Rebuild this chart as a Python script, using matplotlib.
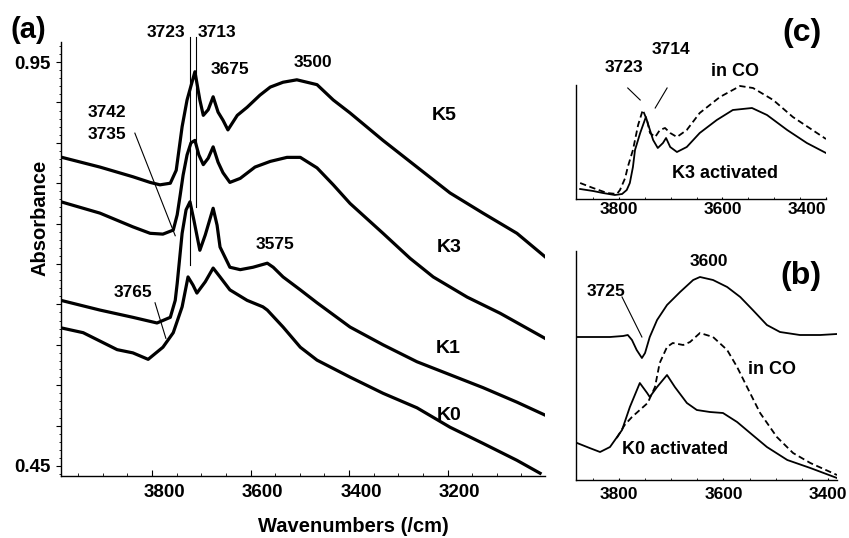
import matplotlib
matplotlib.use("Agg")
import matplotlib.pyplot as plt
import matplotlib.transforms as mtransforms
from matplotlib.ticker import MultipleLocator, FuncFormatter

plt.rcParams['font.family'] = ['Liberation Sans', 'DejaVu Sans']
plt.rcParams['font.weight'] = 'bold'

# ---- panel (a): IR spectra of K0..K5 ----
k5_wn = [3983, 3906, 3839, 3804, 3784, 3763, 3751, 3739, 3729, 3713, 3703, 3696, 3686,
         3676, 3666, 3656, 3646, 3627, 3607, 3581, 3560, 3534, 3506, 3465, 3432, 3398,
         3331, 3262, 3195, 3128, 3059, 3002]
k5_abs = [0.832, 0.820, 0.808, 0.801, 0.798, 0.800, 0.816, 0.870, 0.903, 0.938, 0.903,
          0.884, 0.891, 0.907, 0.888, 0.878, 0.866, 0.884, 0.894, 0.909, 0.919, 0.925,
          0.928, 0.922, 0.903, 0.887, 0.853, 0.820, 0.788, 0.763, 0.738, 0.709]

k3_wn = [3985, 3906, 3839, 3804, 3778, 3757, 3749, 3743, 3737, 3729, 3721, 3713, 3705,
         3696, 3686, 3676, 3666, 3656, 3642, 3621, 3591, 3560, 3526, 3499, 3465, 3432,
         3398, 3331, 3276, 3229, 3160, 3093, 3002]
k3_abs = [0.777, 0.763, 0.746, 0.738, 0.737, 0.742, 0.761, 0.785, 0.810, 0.835, 0.850,
          0.853, 0.835, 0.823, 0.831, 0.845, 0.826, 0.813, 0.801, 0.806, 0.820, 0.827,
          0.832, 0.832, 0.819, 0.798, 0.775, 0.738, 0.707, 0.684, 0.659, 0.639, 0.608]

k1_wn = [3985, 3906, 3839, 3790, 3763, 3753, 3749, 3739, 3731, 3723, 3715, 3703, 3692,
         3676, 3668, 3662, 3642, 3621, 3595, 3566, 3554, 3534, 3499, 3465, 3398, 3331,
         3262, 3195, 3128, 3059, 3002]
k1_abs = [0.655, 0.643, 0.634, 0.627, 0.634, 0.655, 0.676, 0.738, 0.767, 0.777, 0.754,
          0.717, 0.736, 0.769, 0.748, 0.721, 0.696, 0.693, 0.696, 0.701, 0.696, 0.684,
          0.668, 0.652, 0.622, 0.600, 0.579, 0.563, 0.547, 0.529, 0.513]

k0_wn = [3985, 3940, 3871, 3839, 3808, 3778, 3757, 3739, 3727, 3717, 3709, 3692, 3676,
         3662, 3642, 3607, 3575, 3566, 3534, 3499, 3465, 3398, 3331, 3262, 3195, 3128,
         3059, 3012]
k0_abs = [0.621, 0.615, 0.594, 0.590, 0.582, 0.597, 0.615, 0.647, 0.684, 0.674, 0.664,
          0.678, 0.695, 0.684, 0.668, 0.655, 0.647, 0.643, 0.622, 0.597, 0.581, 0.560,
          0.540, 0.522, 0.498, 0.478, 0.457, 0.441]

# ---- panel (c): K3 activated / in CO ----
c_act_wn = [3875, 3850, 3831, 3808, 3794, 3785, 3779, 3773, 3769, 3759, 3748, 3742, 3734,
            3725, 3715, 3709, 3701, 3688, 3669, 3644, 3611, 3580, 3543, 3514, 3475, 3437,
            3400]
c_act = [0.10, 0.08, 0.06, 0.04, 0.05, 0.09, 0.16, 0.32, 0.49, 0.66, 0.82, 0.72, 0.59,
         0.51, 0.56, 0.61, 0.52, 0.47, 0.52, 0.66, 0.79, 0.89, 0.91, 0.84, 0.69, 0.56,
         0.46]
c_co_wn = [3875, 3850, 3823, 3804, 3798, 3788, 3783, 3773, 3763, 3754, 3746, 3740, 3730,
           3721, 3711, 3701, 3688, 3669, 3644, 3605, 3566, 3541, 3502, 3464, 3400]
c_co = [0.16, 0.11, 0.06, 0.05, 0.09, 0.21, 0.32, 0.49, 0.74, 0.89, 0.79, 0.66, 0.62,
        0.69, 0.71, 0.66, 0.62, 0.69, 0.86, 1.02, 1.13, 1.11, 0.99, 0.82, 0.60]

# ---- panel (b): K0 activated / in CO / difference ----
b_diff_wn = [3880, 3850, 3817, 3792, 3783, 3775, 3766, 3756, 3750, 3741, 3727, 3708, 3683,
             3658, 3645, 3620, 3593, 3568, 3544, 3517, 3492, 3454, 3415, 3383]
b_diff = [1.43, 1.43, 1.43, 1.44, 1.45, 1.40, 1.30, 1.22, 1.27, 1.43, 1.60, 1.75, 1.88,
          2.00, 2.03, 2.00, 1.93, 1.83, 1.70, 1.55, 1.48, 1.45, 1.45, 1.46]
b_act_wn = [3880, 3856, 3836, 3817, 3794, 3779, 3760, 3746, 3741, 3727, 3708, 3693, 3670,
            3651, 3626, 3601, 3574, 3549, 3517, 3478, 3434, 3383]
b_act = [0.37, 0.32, 0.28, 0.33, 0.50, 0.73, 0.97, 0.87, 0.83, 0.93, 1.05, 0.93, 0.77,
         0.70, 0.68, 0.67, 0.58, 0.47, 0.33, 0.20, 0.12, 0.02]
b_co_wn = [3804, 3789, 3775, 3760, 3745, 3731, 3722, 3708, 3697, 3677, 3664, 3645, 3620,
           3593, 3574, 3555, 3530, 3498, 3467, 3434, 3383]
b_co = [0.42, 0.55, 0.63, 0.70, 0.77, 0.93, 1.17, 1.33, 1.37, 1.35, 1.38, 1.47, 1.43,
        1.30, 1.13, 0.93, 0.67, 0.43, 0.27, 0.17, 0.05]

fig = plt.figure(figsize=(8.49, 5.38), dpi=100)
W, H = 849.0, 538.0


def box(x0, y0, x1, y1):
    return [x0 / W, 1 - y1 / H, (x1 - x0) / W, (y1 - y0) / H]


def clean(ax):
    ax.spines['top'].set_visible(False)
    ax.spines['right'].set_visible(False)
    for s in ('left', 'bottom'):
        ax.spines[s].set_linewidth(1.0)


# panel (a)
ax = fig.add_axes(box(61, 42, 545, 476))
clean(ax)
for wn, ab in [(k5_wn, k5_abs), (k3_wn, k3_abs), (k1_wn, k1_abs), (k0_wn, k0_abs)]:
    ax.plot(wn, ab, color='black', lw=2.3, solid_joinstyle='round')
ax.set_xlim(3985, 3002)
ax.set_ylim(0.4376, 0.9748)
ax.set_xticks([3800, 3600, 3400, 3200])
ax.xaxis.set_minor_locator(MultipleLocator(50))
ax.yaxis.set_major_locator(MultipleLocator(0.05))
ax.yaxis.set_minor_locator(MultipleLocator(0.01))
ax.yaxis.set_major_formatter(FuncFormatter(
    lambda v, p: f"{v:.2f}" if abs(v - 0.95) < 1e-6 or abs(v - 0.45) < 1e-6 else ""))
ax.tick_params(axis='x', which='both', direction='in', labelsize=13.5, pad=6)
ax.tick_params(axis='x', which='major', length=4)
ax.tick_params(axis='x', which='minor', length=2.5)
ax.tick_params(axis='y', which='major', direction='out', length=3.5, labelsize=13.5, pad=4)
ax.tick_params(axis='y', which='minor', direction='out', length=1.5)
shift = mtransforms.ScaledTranslation(0.12, 0, fig.dpi_scale_trans)
for lab in ax.get_xticklabels():
    lab.set_transform(lab.get_transform() + shift)
    lab.set_fontweight('bold')
for lab in ax.get_yticklabels():
    lab.set_fontweight('bold')

fs = 12.5
ax.plot([3723, 3723], [0.981, 0.699], color='black', lw=0.8, clip_on=False)
ax.plot([3711, 3711], [0.981, 0.771], color='black', lw=0.8, clip_on=False)
ax.text(3772, 0.986, '3723', ha='center', va='center', fontsize=fs, fontweight='bold')
ax.text(3668, 0.986, '3713', ha='center', va='center', fontsize=fs, fontweight='bold')
ax.text(3642, 0.941, '3675', ha='center', va='center', fontsize=fs, fontweight='bold')
ax.text(3473, 0.950, '3500', ha='center', va='center', fontsize=fs, fontweight='bold')
ax.text(3891, 0.887, '3742', ha='center', va='center', fontsize=fs, fontweight='bold')
ax.text(3891, 0.860, '3735', ha='center', va='center', fontsize=fs, fontweight='bold')
ax.plot([3835, 3753], [0.862, 0.735], color='black', lw=0.8)
ax.text(3839, 0.665, '3765', ha='center', va='center', fontsize=fs, fontweight='bold')
ax.plot([3794, 3772], [0.652, 0.608], color='black', lw=0.8)
ax.text(3550, 0.724, '3575', ha='center', va='center', fontsize=fs, fontweight='bold')
for name, wx, ay in [('K5', 3207, 0.884), ('K3', 3197, 0.721), ('K1', 3199, 0.595),
                     ('K0', 3197, 0.513)]:
    ax.text(wx, ay, name, ha='center', va='center', fontsize=14, fontweight='bold')

fig.text(353 / W, 1 - 527 / H, 'Wavenumbers (/cm)', ha='center', va='center',
         fontsize=14.5, fontweight='bold')
fig.text(40 / W, 1 - 218 / H, 'Absorbance', ha='center', va='center', rotation=90,
         fontsize=14.5, fontweight='bold')
fig.text(28 / W, 1 - 30 / H, '(a)', ha='center', va='center', fontsize=21, fontweight='bold')

# panel (c)
axc = fig.add_axes(box(576, 85, 826, 199))
clean(axc)
axc.plot(c_act_wn, c_act, color='black', lw=1.3)
axc.plot(c_co_wn, c_co, color='black', lw=1.3, ls=(0, (3.5, 2)))
axc.set_xlim(3883, 3400)
axc.set_ylim(0, 1.14)
axc.set_yticks([])
axc.set_xticks([3800, 3600, 3400])
axc.xaxis.set_minor_locator(MultipleLocator(50))
axc.tick_params(axis='x', which='both', direction='in', length=1.5, labelsize=12.5, pad=2)
for lab in axc.get_xticklabels():
    lab.set_fontweight('bold')
axc.get_xticklabels()[-1].set_ha('right')
axc.text(3790, 1.31, '3723', ha='center', va='center', fontsize=fs, fontweight='bold')
axc.text(3700, 1.49, '3714', ha='center', va='center', fontsize=fs, fontweight='bold')
axc.plot([3783, 3759], [1.11, 0.99], color='black', lw=0.8, clip_on=False)
axc.plot([3707, 3730], [1.11, 0.91], color='black', lw=0.8, clip_on=False)
axc.text(3576, 1.27, 'in CO', ha='center', va='center', fontsize=13, fontweight='bold')
axc.text(3595, 0.26, 'K3 activated', ha='center', va='center', fontsize=13,
         fontweight='bold')
fig.text(802 / W, 1 - 33 / H, '(c)', ha='center', va='center', fontsize=23,
         fontweight='bold')

# panel (b)
axb = fig.add_axes(box(576, 251, 837, 480))
clean(axb)
axb.plot(b_diff_wn, b_diff, color='black', lw=1.3)
axb.plot(b_act_wn, b_act, color='black', lw=1.3)
axb.plot(b_co_wn, b_co, color='black', lw=1.3, ls=(0, (3.5, 2)))
axb.set_xlim(3882, 3383)
axb.set_ylim(0, 2.29)
axb.set_yticks([])
axb.set_xticks([3800, 3600, 3400])
axb.xaxis.set_minor_locator(MultipleLocator(50))
axb.tick_params(axis='x', which='both', direction='in', length=1.5, labelsize=12.5, pad=5)
for lab in axb.get_xticklabels():
    lab.set_fontweight('bold')
axb.text(3825, 1.88, '3725', ha='center', va='center', fontsize=fs, fontweight='bold')
axb.plot([3794, 3756], [1.83, 1.43], color='black', lw=0.8)
axb.text(3628, 2.19, '3600', ha='center', va='center', fontsize=fs, fontweight='bold')
axb.text(3507, 1.10, 'in CO', ha='center', va='center', fontsize=13, fontweight='bold')
axb.text(3693, 0.30, 'K0 activated', ha='center', va='center', fontsize=13,
         fontweight='bold')
fig.text(801 / W, 1 - 276 / H, '(b)', ha='center', va='center', fontsize=23,
         fontweight='bold')

fig.savefig('out.png', dpi=100)
